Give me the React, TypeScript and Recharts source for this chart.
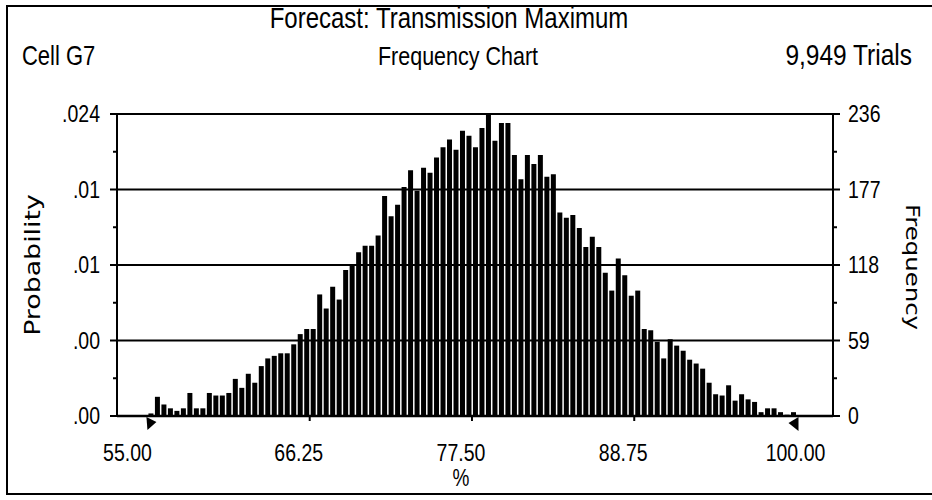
import { Bar, ComposedChart, Line, ReferenceDot, ReferenceLine, XAxis, YAxis } from "recharts"

// Crystal Ball style frequency chart, 100 cells from 55 to 100
const rangeMin = 55
const rangeMax = 100
const frequencies = [
  2, 15, 9, 6, 4, 6, 18, 6, 6, 18,
  16, 16, 18, 29, 22, 33, 26, 39, 45, 47,
  49, 49, 56, 64, 68, 68, 95, 84, 101, 91,
  114, 118, 128, 133, 133, 141, 172, 156, 165, 179,
  192, 176, 194, 190, 202, 210, 216, 208, 223, 219,
  210, 225, 236, 215, 229, 229, 204, 185, 204, 197,
  204, 187, 189, 159, 155, 157, 147, 132, 140, 132,
  112, 98, 123, 110, 94, 98, 68, 67, 58, 45,
  60, 55, 51, 44, 41, 37, 26, 17, 16, 24,
  12, 17, 13, 11, 3, 6, 6, 3, 1, 3,
]
const freqTicks = [0, 59, 118, 177, 236]
const probLabels = [".00", ".00", ".01", ".01", ".024"]
const xTicks = [55, 66.25, 77.5, 88.75, 100]
const xLabels = ["55.00", "66.25", "77.50", "88.75", "100.00"]

const binWidth = (rangeMax - rangeMin) / frequencies.length
const data = frequencies.map((freq, i) => ({ x: rangeMin + binWidth * (i + 0.5), freq }))

const minorTicks = freqTicks.slice(1).map((t, i) => (t + freqTicks[i]) / 2)
const yTicks = [...freqTicks, ...minorTicks].sort((a, b) => a - b)

const FONT = "'Liberation Sans', Arial, sans-serif"
// the scanned original is a bit taller than wide, so text gets stretched vertically
const STRETCH = 1.22
const TICK_SIZE = 19.5

function Txt({ x, y, size, anchor = "start", children }: any) {
  return (
    <text
      transform={`translate(${x},${y}) scale(1,${STRETCH})`}
      textAnchor={anchor}
      fontFamily={FONT}
      fontSize={size}
      fill="#000"
    >
      {children}
    </text>
  )
}

function LeftTick(props: any) {
  const { x, y, payload } = props
  const i = freqTicks.indexOf(payload.value)
  if (i < 0) return <line x1={x - 4} x2={x} y1={y} y2={y} stroke="#000" strokeWidth={2} />
  return (
    <g>
      <line x1={x - 7} x2={x} y1={y} y2={y} stroke="#000" strokeWidth={2} />
      <Txt x={x - 17} y={y + 8} size={TICK_SIZE} anchor="end">{probLabels[i]}</Txt>
    </g>
  )
}

function RightTick(props: any) {
  const { x, y, payload } = props
  const i = freqTicks.indexOf(payload.value)
  if (i < 0) return <line x1={x} x2={x + 4} y1={y} y2={y} stroke="#000" strokeWidth={2} />
  return (
    <g>
      <line x1={x} x2={x + 7} y1={y} y2={y} stroke="#000" strokeWidth={2} />
      <Txt x={x + 15} y={y + 8} size={TICK_SIZE}>{payload.value}</Txt>
    </g>
  )
}

function BottomTick(props: any) {
  const { x, y, payload } = props
  const i = xTicks.indexOf(payload.value)
  const edge = i === 0 || i === xTicks.length - 1
  const shift = i === 0 ? -20 : edge ? -1 : -11
  return (
    <g>
      {!edge && <line x1={x} x2={x} y1={y} y2={y + 5} stroke="#000" strokeWidth={2} />}
      <Txt x={x + shift} y={y + 45} size={TICK_SIZE} anchor="middle">{xLabels[i]}</Txt>
    </g>
  )
}

const leftMarker = (p: any) => (
  <polygon points={`${p.cx - 1},${p.cy + 1} ${p.cx + 9},${p.cy + 6} ${p.cx},${p.cy + 14}`} fill="#000" />
)
const rightMarker = (p: any) => (
  <polygon points={`${p.cx + 2},${p.cy + 1} ${p.cx - 8},${p.cy + 7} ${p.cx + 2},${p.cy + 15}`} fill="#000" />
)

export default function App() {
  return (
    <div style={{ position: "fixed", left: 0, top: 0, width: 932, height: 500, background: "#fff" }}>
      <div
        style={{
          position: "absolute",
          left: 6,
          top: 5,
          width: 940,
          height: 486,
          borderLeft: "2px solid #000",
          borderTop: "2px solid #000",
          borderBottom: "2px solid #000",
        }}
      />
      <ComposedChart
        width={932}
        height={500}
        data={data}
        margin={{ top: 114, right: 39, bottom: 44, left: 57 }}
      >
        <XAxis
          dataKey="x"
          type="number"
          domain={[52.89, 102.53]}
          ticks={xTicks}
          interval={0}
          allowDataOverflow
          height={40}
          tickSize={0}
          tickMargin={0}
          tick={<BottomTick />}
          axisLine={{ stroke: "#000", strokeWidth: 2.5 }}
          tickLine={false}
        />
        <YAxis
          yAxisId="left"
          domain={[0, 236]}
          ticks={yTicks}
          interval={0}
          width={60}
          tickSize={0}
          tickMargin={0}
          tick={<LeftTick />}
          axisLine={{ stroke: "#000", strokeWidth: 2 }}
          tickLine={false}
        />
        <YAxis
          yAxisId="right"
          orientation="right"
          domain={[0, 236]}
          ticks={yTicks}
          interval={0}
          width={60}
          tickSize={0}
          tickMargin={0}
          tick={<RightTick />}
          axisLine={{ stroke: "#000", strokeWidth: 2 }}
          tickLine={false}
        />
        {freqTicks.slice(1).map((t) => (
          <ReferenceLine key={t} y={t} yAxisId="right" stroke="#000" strokeWidth={2} />
        ))}
        <Bar dataKey="freq" yAxisId="right" fill="#000" barSize={5} isAnimationActive={false} />
        {/* probability scale shares the frequency values, it only needs a series to show */}
        <Line
          dataKey="freq"
          yAxisId="left"
          stroke="none"
          dot={false}
          activeDot={false}
          isAnimationActive={false}
        />
        <ReferenceDot x={rangeMin} y={0} yAxisId="right" r={3} shape={leftMarker} ifOverflow="visible" />
        <ReferenceDot x={rangeMax} y={0} yAxisId="right" r={3} shape={rightMarker} ifOverflow="visible" />
      </ComposedChart>
      <svg
        width={932}
        height={500}
        style={{ position: "absolute", left: 0, top: 0, pointerEvents: "none" }}
      >
        <Txt x={449} y={28} size={24} anchor="middle">Forecast: Transmission Maximum</Txt>
        <Txt x={22} y={65} size={22}>Cell G7</Txt>
        <Txt x={458} y={65} size={21.5} anchor="middle">Frequency Chart</Txt>
        <Txt x={912} y={65} size={24.5} anchor="end">9,949 Trials</Txt>
        <Txt x={461} y={486} size={19} anchor="middle">%</Txt>
        <g fontFamily="'DejaVu Sans', sans-serif" fill="#000">
          <text
            transform={`translate(40,265) scale(1,${STRETCH}) rotate(-90)`}
            textAnchor="middle"
            fontSize={22}
          >
            Probability
          </text>
          <text
            transform={`translate(906,267) scale(1,${STRETCH}) rotate(90)`}
            textAnchor="middle"
            fontSize={20}
          >
            Frequency
          </text>
        </g>
      </svg>
    </div>
  )
}
